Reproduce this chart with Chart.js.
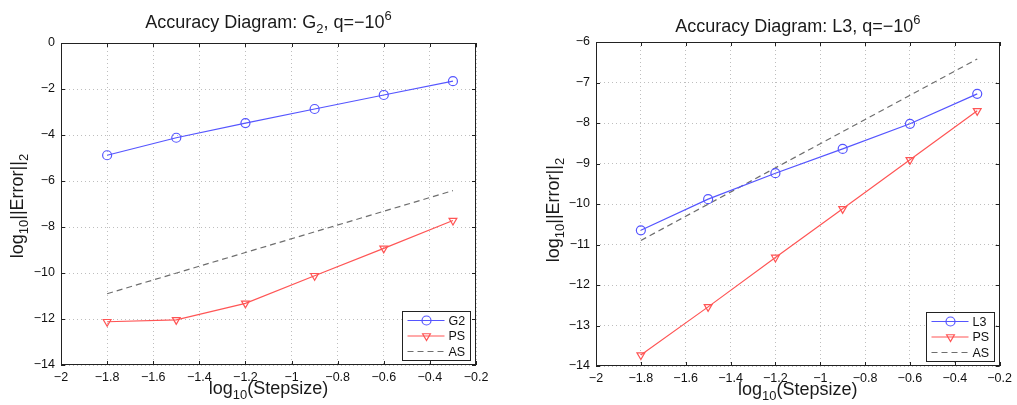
<!DOCTYPE html>
<html>
<head>
<meta charset="utf-8">
<script src="https://cdn.jsdelivr.net/npm/chart.js@4"></script>
<style>
  body { margin: 0; background: #fff; width: 1017px; height: 405px; position: relative; overflow: hidden; }
  canvas { position: absolute; top: 0; }
</style>
</head>
<body>
<canvas id="left" width="508" height="405" style="left:0"></canvas>
<canvas id="right" width="509" height="405" style="left:508px"></canvas>
<script>
// log10 of the step size, shared by both panels
var stepLog = [-1.8, -1.5, -1.2, -0.9, -0.6, -0.3];

// left panel: G2 method vs PS
var g2Err = [-4.88, -4.12, -3.48, -2.87, -2.26, -1.66];
var psErrG2 = [-12.12, -12.04, -11.32, -10.12, -8.93, -7.72];

// right panel: L3 method vs PS
var l3Err = [-10.65, -9.88, -9.24, -8.64, -8.02, -7.28];
var psErrL3 = [-13.73, -12.54, -11.32, -10.12, -8.91, -7.70];

// AS reference line, only its two ends
var asStep = [-1.8, -0.3];
var asErr = [-10.9, -6.42];

var FONT = '"Liberation Sans", Arial, Helvetica, sans-serif';
var BLUE = 'rgb(85,85,255)';
var RED = 'rgb(255,85,85)';
var GRAY = 'rgb(110,110,110)';

function pts(xs, ys) {
  return xs.map(function (x, i) { return { x: x, y: ys[i] }; });
}

function tickText(v) {
  var s = String(Math.round(v * 10) / 10);
  return s.replace('-', '\u2212');
}

// text with sub/superscript pieces: parts = [[text, 'sub'|'sup'|null], ...]
function richText(ctx, parts, x, y, size, vertical) {
  var w = 0;
  var segs = parts.map(function (p) {
    var s = p[1] ? size * 0.72 : size;
    ctx.font = s + 'px ' + FONT;
    var m = ctx.measureText(p[0]).width;
    w += m;
    return { t: p[0], k: p[1], s: s, m: m };
  });
  ctx.save();
  ctx.translate(x, y);
  if (vertical) ctx.rotate(-Math.PI / 2);
  ctx.fillStyle = '#1a1a1a';
  ctx.textAlign = 'left';
  ctx.textBaseline = 'alphabetic';
  var cx = -w / 2;
  segs.forEach(function (g) {
    ctx.font = g.s + 'px ' + FONT;
    var dy = g.k === 'sub' ? size * 0.3 : g.k === 'sup' ? -size * 0.42 : 0;
    ctx.fillText(g.t, cx, dy);
    cx += g.m;
  });
  ctx.restore();
}

// box frame, inward ticks, legend and titles, MATLAB style
var decor = {
  id: 'decor',
  afterDraw: function (chart, args, o) {
    var ctx = chart.ctx, a = chart.chartArea;
    var xs = chart.scales.x, ys = chart.scales.y;
    ctx.save();
    ctx.strokeStyle = '#222';
    ctx.lineWidth = 1;
    ctx.setLineDash([]);
    ctx.strokeRect(Math.round(a.left) + 0.5, Math.round(a.top) + 0.5,
      Math.round(a.width) - 1, Math.round(a.height) - 1);

    ctx.beginPath();
    xs.ticks.forEach(function (t) {
      var px = Math.round(xs.getPixelForValue(t.value)) + 0.5;
      ctx.moveTo(px, a.bottom); ctx.lineTo(px, a.bottom - 4);
      ctx.moveTo(px, a.top); ctx.lineTo(px, a.top + 4);
    });
    ys.ticks.forEach(function (t) {
      var py = Math.round(ys.getPixelForValue(t.value)) + 0.5;
      ctx.moveTo(a.left, py); ctx.lineTo(a.left + 4, py);
      ctx.moveTo(a.right, py); ctx.lineTo(a.right - 4, py);
    });
    ctx.stroke();

    // legend box in the lower right corner
    var bw = 68, bh = 49;
    var bx = Math.round(a.right - 6 - bw) + 0.5, by = Math.round(a.bottom - 5 - bh) + 0.5;
    ctx.fillStyle = '#fff';
    ctx.fillRect(bx, by, bw, bh);
    ctx.strokeStyle = '#222';
    ctx.strokeRect(bx, by, bw, bh);
    chart.data.datasets.forEach(function (ds, i) {
      var ly = by + 9 + i * 15.5;
      ctx.save();
      ctx.strokeStyle = ds.borderColor;
      ctx.fillStyle = 'rgba(0,0,0,0)';
      ctx.lineWidth = 1.2;
      ctx.setLineDash(ds.borderDash || []);
      ctx.beginPath();
      ctx.moveTo(bx + 5, ly); ctx.lineTo(bx + 42, ly);
      ctx.stroke();
      ctx.setLineDash([]);
      if (ds.pointRadius > 0) {
        Chart.helpers.drawPoint(ctx, {
          pointStyle: ds.pointStyle, rotation: ds.pointRotation || 0,
          radius: ds.pointRadius, borderWidth: 1.2
        }, bx + 24, ly);
      }
      ctx.restore();
      ctx.fillStyle = '#111';
      ctx.font = '12.5px ' + FONT;
      ctx.textBaseline = 'middle';
      ctx.textAlign = 'left';
      ctx.fillText(ds.label, bx + 46, ly + 1);
    });
    ctx.restore();

    var cx = (a.left + a.right) / 2;
    richText(ctx, o.title, cx, o.titleY, 18, false);
    richText(ctx, o.xTitle, cx, o.xTitleY, 18, false);
    richText(ctx, o.yTitle, o.yTitleX, (a.top + a.bottom) / 2 + o.yShift, 18, true);
  }
};

var xTitle = [['log', null], ['10', 'sub'], ['(Stepsize)', null]];
var yTitle = [['log', null], ['10', 'sub'], ['||Error||', null], ['2', 'sub']];

function lineSet(label, ys, color, style, rot) {
  return {
    label: label, data: pts(stepLog, ys),
    borderColor: color, backgroundColor: 'transparent',
    borderWidth: 1.2, pointStyle: style, pointRotation: rot || 0,
    pointRadius: 4.5, pointBorderWidth: 1.2,
    pointBorderColor: color, pointBackgroundColor: 'transparent'
  };
}

function asSet() {
  return {
    label: 'AS', data: pts(asStep, asErr),
    borderColor: GRAY, borderWidth: 1.2, borderDash: [6, 4],
    pointRadius: 0, backgroundColor: 'transparent'
  };
}

function makeChart(id, datasets, yMin, yMax, yStep, pad, yAxisW, xAxisH, deco) {
  var tickFont = { size: 12.5, family: FONT };
  return new Chart(document.getElementById(id), {
    type: 'line',
    data: { datasets: datasets },
    plugins: [decor],
    options: {
      responsive: false,
      animation: false,
      layout: { padding: pad },
      plugins: { legend: { display: false }, tooltip: { enabled: false }, decor: deco },
      scales: {
        x: {
          type: 'linear', min: -2, max: -0.2,
          afterFit: function (s) { s.height = xAxisH; },
          ticks: { stepSize: 0.2, padding: 5, color: '#111', font: tickFont, callback: tickText },
          grid: { color: 'rgb(190,190,190)', drawTicks: false },
          border: { display: false, dash: [1, 3] }
        },
        y: {
          type: 'linear', min: yMin, max: yMax,
          afterFit: function (s) { s.width = yAxisW; },
          ticks: { stepSize: yStep, padding: 6, color: '#111', font: tickFont, callback: tickText },
          grid: { color: 'rgb(190,190,190)', drawTicks: false },
          border: { display: false, dash: [1, 3] }
        }
      }
    }
  });
}

makeChart('left', [
  lineSet('G2', g2Err, BLUE, 'circle'),
  lineSet('PS', psErrG2, RED, 'triangle', 180),
  asSet()
], -14, 0, 2, { top: 43, right: 32, left: 0, bottom: 0 }, 61, 40, {
  title: [['Accuracy Diagram: G', null], ['2', 'sub'], [', q=\u221210', null], ['6', 'sup']],
  titleY: 28, xTitle: xTitle, xTitleY: 394, yTitle: yTitle, yTitleX: 23, yShift: 2
});

makeChart('right', [
  lineSet('L3', l3Err, BLUE, 'circle'),
  lineSet('PS', psErrL3, RED, 'triangle', 180),
  asSet()
], -14, -6, 1, { top: 42, right: 11, left: 0, bottom: 0 }, 88, 39, {
  title: [['Accuracy Diagram: L3, q=\u221210', null], ['6', 'sup']],
  titleY: 32, xTitle: xTitle, xTitleY: 395, yTitle: yTitle, yTitleX: 51, yShift: 6
});
</script>
</body>
</html>
